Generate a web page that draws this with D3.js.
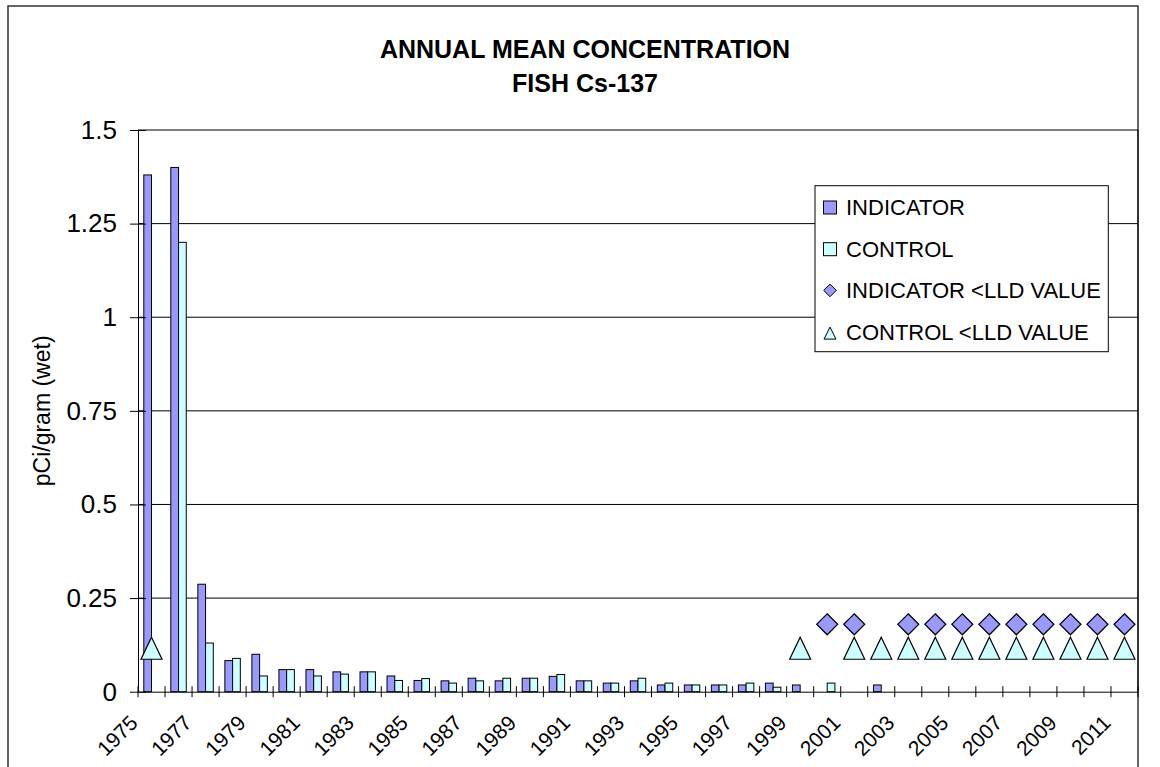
<!DOCTYPE html>
<html>
<head>
<meta charset="utf-8">
<script src="https://cdn.jsdelivr.net/npm/d3@7"></script>
<style>
  body { margin: 0; background: #fff; }
  svg  { display: block; font-family: "Liberation Sans", Arial, sans-serif; }
</style>
</head>
<body>
<svg id="chart" width="1160" height="767"></svg>
<script>
// Chart values.
const years = d3.range( 1975, 2012 );
const indicator = [
  1.38, 1.40, 0.287, 0.083, 0.100, 0.059, 0.059, 0.053, 0.053, 0.042,
  0.030, 0.029, 0.036, 0.029, 0.036, 0.041, 0.029, 0.023, 0.029, 0.018,
  0.018, 0.018, 0.018, 0.023, 0.018, null, null, 0.018, null, null,
  null, null, null, null, null, null, null
];
const control = [
  null, 1.20, 0.130, 0.089, 0.042, 0.059, 0.042, 0.047, 0.053, 0.030,
  0.035, 0.023, 0.029, 0.036, 0.036, 0.046, 0.029, 0.023, 0.036, 0.023,
  0.018, 0.018, 0.023, 0.012, null, 0.023, null, null, null, null,
  null, null, null, null, null, null, null
];
// Years below the lower limit of detection, plotted at the LLD value.
const indicatorLLDYears = [ 2000, 2001, 2003, 2004, 2005, 2006, 2007, 2008, 2009, 2010, 2011 ];
const controlLLDYears   = [ 1975, 1999, 2001, 2002, 2003, 2004, 2005, 2006, 2007, 2008, 2009, 2010, 2011 ];
const indicatorLLD = 0.18;
const controlLLD   = 0.116;
const yTicks = [ 0, 0.25, 0.5, 0.75, 1, 1.25, 1.5 ];
const titleLines = [ 'ANNUAL MEAN CONCENTRATION', 'FISH Cs-137' ];
const legendItems = [
  { label: 'INDICATOR',            kind: 'bar',      fill: '#9999ff' },
  { label: 'CONTROL',              kind: 'bar',      fill: '#ccffff' },
  { label: 'INDICATOR <LLD VALUE', kind: 'diamond',  fill: '#9999ff' },
  { label: 'CONTROL <LLD VALUE',   kind: 'triangle', fill: '#ccffff' }
];

// Layout.
const plot = { left: 138, right: 1138, top: 130, bottom: 691.7 };
const svg  = d3.select( '#chart' );

// Outer chart border.
svg.append( 'rect' )
  .attr( 'x', 8 ).attr( 'y', 6 )
  .attr( 'width', plot.right - 8 ).attr( 'height', 820 )
  .attr( 'fill', 'none' ).attr( 'stroke', '#333' ).attr( 'stroke-width', 1.5 );

// Scales.
const x = d3.scaleBand( ).domain( years ).range( [ plot.left, plot.right ] ).padding( 0 );
const y = d3.scaleLinear( ).domain( [ 0, 1.5 ] ).range( [ plot.bottom, plot.top ] );
const barW = x.bandwidth( ) / 3.5;

// Gridlines.
svg.append( 'g' )
  .selectAll( 'line' )
  .data( yTicks.filter( d => d > 0 ) )
  .enter( ).append( 'line' )
    .attr( 'x1', plot.left ).attr( 'x2', plot.right )
    .attr( 'y1', d => y( d ) ).attr( 'y2', d => y( d ) )
    .attr( 'stroke', '#000' ).attr( 'stroke-width', 1 );

// Right edge of plot area.
svg.append( 'line' )
  .attr( 'x1', plot.right ).attr( 'x2', plot.right )
  .attr( 'y1', plot.top ).attr( 'y2', plot.bottom )
  .attr( 'stroke', '#000' );

// Bars.
const barData = [ ];
years.forEach( ( yr, i ) => {
  if ( indicator[i] != null ) barData.push( { year: yr, v: indicator[i], off: -barW, fill: '#9999ff' } );
  if ( control[i]   != null ) barData.push( { year: yr, v: control[i],   off: 0,     fill: '#ccffff' } );
} );
svg.append( 'g' )
  .selectAll( 'rect' )
  .data( barData )
  .enter( ).append( 'rect' )
    .attr( 'x'     , d => x( d.year ) + x.bandwidth( ) / 2 + d.off )
    .attr( 'y'     , d => y( d.v ) )
    .attr( 'width' , barW )
    .attr( 'height', d => y( 0 ) - y( d.v ) )
    .attr( 'fill'  , d => d.fill )
    .attr( 'stroke', '#000' ).attr( 'stroke-width', 1 );

// Marker shapes.
const diamondPath  = r => `M0,${-r}L${r},0L0,${r}L${-r},0Z`;
const trianglePath = ( w, h ) => `M0,${-h/2}L${w/2},${h/2}L${-w/2},${h/2}Z`;

svg.append( 'g' )
  .selectAll( 'path' )
  .data( controlLLDYears )
  .enter( ).append( 'path' )
    .attr( 'transform', d => `translate(${x( d ) + x.bandwidth( ) / 2},${y( controlLLD )})` )
    .attr( 'd', trianglePath( 21, 22 ) )
    .attr( 'fill', '#ccffff' ).attr( 'stroke', '#000' ).attr( 'stroke-width', 1.2 );

svg.append( 'g' )
  .selectAll( 'path' )
  .data( indicatorLLDYears )
  .enter( ).append( 'path' )
    .attr( 'transform', d => `translate(${x( d ) + x.bandwidth( ) / 2},${y( indicatorLLD )})` )
    .attr( 'd', diamondPath( 10.5 ) )
    .attr( 'fill', '#9999ff' ).attr( 'stroke', '#000' ).attr( 'stroke-width', 1.2 );

// Y axis.
const yAxis = d3.axisLeft( y )
  .tickValues( yTicks )
  .tickFormat( d => String( d ) )
  .tickSize( 8 ).tickSizeOuter( 0 ).tickPadding( 13 );
const yg = svg.append( 'g' )
  .attr( 'transform', `translate(${plot.left},0)` )
  .call( yAxis );
yg.select( '.domain' ).attr( 'stroke', '#000' );
yg.selectAll( '.tick line' ).attr( 'x1', 8 ).attr( 'stroke', '#000' );
yg.selectAll( '.tick text' )
  .attr( 'font-size', 26 ).attr( 'font-family', '"Liberation Sans", Arial, sans-serif' )
  .attr( 'fill', '#000' );

// X axis: labels on every other year, ticks between categories.
const xAxis = d3.axisBottom( x )
  .tickValues( years.filter( ( d, i ) => i % 2 === 0 ) )
  .tickSize( 0 ).tickSizeOuter( 0 );
const xg = svg.append( 'g' )
  .attr( 'transform', `translate(0,${plot.bottom})` )
  .call( xAxis );
xg.select( '.domain' ).attr( 'stroke', '#000' );
xg.selectAll( '.tick text' )
  .attr( 'x', 0 ).attr( 'y', 0 ).attr( 'dy', 0 )
  .attr( 'text-anchor', 'end' )
  .attr( 'transform', 'translate(-12.5,32.5) rotate(-45)' )
  .attr( 'font-size', 21 ).attr( 'font-family', '"Liberation Sans", Arial, sans-serif' )
  .attr( 'fill', '#000' );
xg.append( 'g' )
  .selectAll( 'line' )
  .data( years.map( d => x( d ) ).concat( [ plot.right ] ) )
  .enter( ).append( 'line' )
    .attr( 'x1', d => d ).attr( 'x2', d => d )
    .attr( 'y1', -5.5 ).attr( 'y2', 5.5 )
    .attr( 'stroke', '#000' );

// Axis title.
svg.append( 'text' )
  .attr( 'transform', `translate(50,${( plot.top + plot.bottom ) / 2}) rotate(-90)` )
  .attr( 'text-anchor', 'middle' )
  .attr( 'font-size', 23 )
  .text( 'pCi/gram (wet)' );

// Chart title.
svg.append( 'g' )
  .selectAll( 'text' )
  .data( titleLines )
  .enter( ).append( 'text' )
    .attr( 'x', 585 )
    .attr( 'y', ( d, i ) => 58 + i * 34 )
    .attr( 'text-anchor', 'middle' )
    .attr( 'font-size', 25 ).attr( 'font-weight', 'bold' )
    .text( d => d );

// Legend.
const legend = svg.append( 'g' );
legend.append( 'rect' )
  .attr( 'x', 815 ).attr( 'y', 185.7 )
  .attr( 'width', 293.3 ).attr( 'height', 166 )
  .attr( 'fill', '#fff' ).attr( 'stroke', '#000' );
const rows = legend.selectAll( 'g' )
  .data( legendItems )
  .enter( ).append( 'g' )
    .attr( 'transform', ( d, i ) => `translate(830,${207 + i * 41.7})` );
rows.filter( d => d.kind === 'bar' ).append( 'rect' )
  .attr( 'x', -6.5 ).attr( 'y', -6 ).attr( 'width', 13 ).attr( 'height', 13 )
  .attr( 'fill', d => d.fill ).attr( 'stroke', '#000' );
rows.filter( d => d.kind === 'diamond' ).append( 'path' )
  .attr( 'd', diamondPath( 6.3 ) )
  .attr( 'fill', d => d.fill ).attr( 'stroke', '#000' );
rows.filter( d => d.kind === 'triangle' ).append( 'path' )
  .attr( 'd', trianglePath( 12, 12 ) )
  .attr( 'transform', 'translate(0,1)' )
  .attr( 'fill', d => d.fill ).attr( 'stroke', '#000' );
rows.append( 'text' )
  .attr( 'x', 16 ).attr( 'dy', '0.36em' )
  .attr( 'font-size', 22 )
  .text( d => d.label );
</script>
</body>
</html>
